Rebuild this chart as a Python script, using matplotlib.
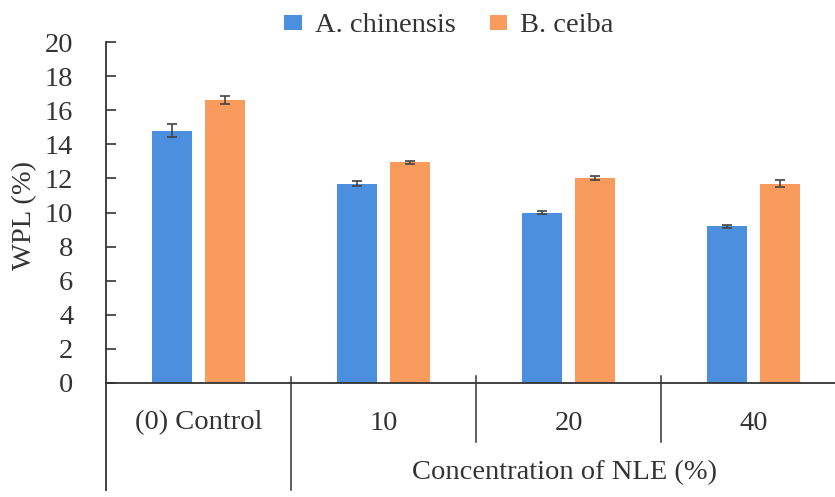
import matplotlib
matplotlib.use("Agg")
import matplotlib.pyplot as plt
from matplotlib.lines import Line2D
from matplotlib.patches import Patch
import numpy as np

categories = ["(0) Control", "10", "20", "40"]
series_names = ["A. chinensis", "B. ceiba"]
a_chinensis = [14.8, 11.7, 10.0, 9.2]
a_chinensis_err = [0.4, 0.12, 0.08, 0.08]
b_ceiba = [16.6, 12.95, 12.05, 11.7]
b_ceiba_err = [0.25, 0.08, 0.12, 0.2]
yticks = [0, 2, 4, 6, 8, 10, 12, 14, 16, 18, 20]
xlabel = "Concentration of NLE (%)"
ylabel = "WPL (%)"

blue = "#4d8fdf"
orange = "#f99b5c"
txt = "#333333"
fs = 20.5

plt.rcParams['font.family'] = ['Liberation Serif', 'DejaVu Serif']

W, H = 835, 497
fig = plt.figure(figsize=(W / 100, H / 100), dpi=100)
ax_left = 106 / W
ax_bottom = (H - 383) / H
ax_top = (H - 42) / H
ax = fig.add_axes([ax_left, ax_bottom, 1.0 - ax_left, ax_top - ax_bottom])

x = np.arange(len(categories))
w = 0.22
off = 0.143
ekw = dict(ecolor="#444444", elinewidth=1.2, capsize=3.5, capthick=1.2)
ax.bar(x - off, a_chinensis, w, yerr=a_chinensis_err, color=blue, error_kw=ekw, zorder=2)
ax.bar(x + off, b_ceiba, w, yerr=b_ceiba_err, color=orange, error_kw=ekw, zorder=2)

ax.set_xlim(-0.5, 3.44)
ax.set_ylim(0, 20)
ax.set_yticks(yticks)
ax.set_yticklabels([str(v) for v in yticks], fontsize=fs, color=txt)
ax.tick_params(axis='y', direction='in', length=7, width=1.2, color="#333333", pad=23.5)
ax.set_xticks([])

for s in ['top', 'right']:
    ax.spines[s].set_visible(False)
ax.spines['left'].set_color("#333333")
ax.spines['left'].set_linewidth(1.3)
ax.spines['bottom'].set_color("#333333")
ax.spines['bottom'].set_linewidth(1.3)

# group separators below the axis (axes x data, y in figure pixels)
trans = matplotlib.transforms.blended_transform_factory(ax.transData, fig.transFigure)
lc = "#333333"
ax.add_line(Line2D([-0.5, -0.5], [ax_bottom, 7 / H], transform=trans, color=lc, lw=1.3, clip_on=False))
ax.add_line(Line2D([0.5, 0.5], [(H - 377) / H, 7 / H], transform=trans, color=lc, lw=1.1, clip_on=False))
for xs in [1.5, 2.5]:
    ax.add_line(Line2D([xs, xs], [(H - 376) / H, (H - 442) / H], transform=trans, color=lc, lw=1.1, clip_on=False))

for i, c in enumerate(categories):
    ax.text(x[i], (H - 423) / H, c, transform=trans, ha='center', va='center', fontsize=fs, color=txt)

ax.text(1.98, (H - 473) / H, xlabel, transform=trans, ha='center', va='center', fontsize=fs, color=txt)
fig.text(25 / W, (H - 215) / H, ylabel, rotation=90, ha='center', va='center', fontsize=fs, color=txt)

handles = [Patch(facecolor=blue, edgecolor='none'), Patch(facecolor=orange, edgecolor='none')]
fig.legend(handles, series_names, loc='center', bbox_to_anchor=(449 / W, (H - 26) / H), ncol=2,
           frameon=False, fontsize=fs, handlelength=0.62, handleheight=0.45, handletextpad=0.45,
           columnspacing=1.2, labelcolor=txt)

fig.savefig("out.png", dpi=100)
